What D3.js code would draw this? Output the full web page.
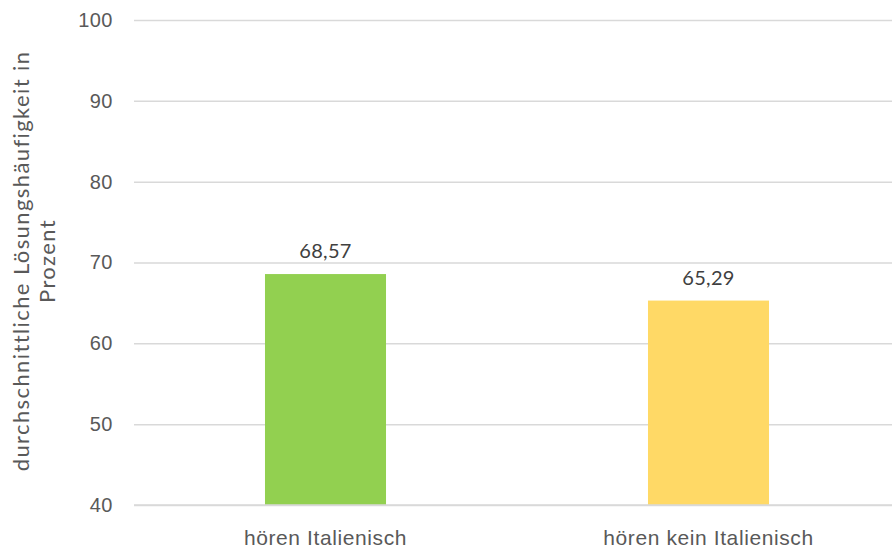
<!DOCTYPE html>
<html>
<head>
<meta charset="utf-8">
<script src="https://cdn.jsdelivr.net/npm/d3@7"></script>
<style>
  html, body { margin: 0; padding: 0; background: #fff; }
  svg { display: block; font-family: Lato, "Open Sans", sans-serif; }
</style>
</head>
<body>
<div id="chart"></div>
<script>
// Durchschnittliche Lösungshäufigkeit je Gruppe
const categories = ["hören Italienisch", "hören kein Italienisch"];
const values = [68.57, 65.29];
const labels = ["68,57", "65,29"];
const colors = ["#92D050", "#FFD966"];
const yTicks = [40, 50, 60, 70, 80, 90, 100];

const width = 892, height = 549;
const margin = { top: 20, right: -8, bottom: 44, left: 134 };

const svg = d3.select("#chart").append("svg")
  .attr("width", width).attr("height", height);

const x = d3.scaleBand()
  .domain(categories)
  .range([margin.left, width - margin.right])
  .paddingInner(0.684)
  .paddingOuter(0.342);

const y = d3.scaleLinear()
  .domain([40, 100])
  .range([height - margin.bottom, margin.top]);

// Gitterlinien und Beschriftung der Y-Achse
const yAxis = svg.append("g")
  .attr("transform", `translate(${margin.left},0)`)
  .call(d3.axisLeft(y).tickValues(yTicks).tickSize(-(width - margin.right - margin.left)).tickPadding(21));
yAxis.select(".domain").remove();
yAxis.selectAll(".tick line").attr("stroke", "#D9D9D9").attr("stroke-width", 1.5);
yAxis.selectAll(".tick text")
  .attr("fill", "#595959").attr("font-size", 20).attr("letter-spacing", 0.5);

// Balken
svg.append("g").selectAll("rect")
  .data(categories)
  .join("rect")
  .attr("x", d => x(d))
  .attr("width", x.bandwidth())
  .attr("y", (d, i) => y(values[i]))
  .attr("height", (d, i) => y(40) - y(values[i]))
  .attr("fill", (d, i) => colors[i]);

// Achsenlinie unten über den Balken
svg.append("line")
  .attr("x1", margin.left).attr("x2", width - margin.right)
  .attr("y1", y(40)).attr("y2", y(40))
  .attr("stroke", "#D9D9D9").attr("stroke-width", 1.5);

// Wertebeschriftung
svg.append("g").selectAll("text")
  .data(categories)
  .join("text")
  .attr("x", d => x(d) + x.bandwidth() / 2)
  .attr("y", (d, i) => y(values[i]) - 16)
  .attr("text-anchor", "middle")
  .attr("fill", "#404040")
  .attr("font-size", 20)
  .attr("letter-spacing", 0.3)
  .text((d, i) => labels[i]);

// Kategorien
const xAxis = svg.append("g")
  .attr("transform", `translate(0,${y(40)})`)
  .call(d3.axisBottom(x).tickSize(0).tickPadding(25));
xAxis.select(".domain").remove();
xAxis.selectAll(".tick text")
  .attr("fill", "#595959").attr("font-size", 21).attr("letter-spacing", 0.6);

// Titel der Y-Achse
const title = svg.append("text")
  .attr("transform", `translate(29,261) rotate(-90)`)
  .attr("text-anchor", "middle")
  .attr("fill", "#595959")
  .attr("font-size", 22)
  .attr("letter-spacing", 1.4);
title.append("tspan").attr("x", 0).attr("dy", 0).text("durchschnittliche Lösungshäufigkeit in");
title.append("tspan").attr("x", 0).attr("dy", 26).text("Prozent");
</script>
</body>
</html>
